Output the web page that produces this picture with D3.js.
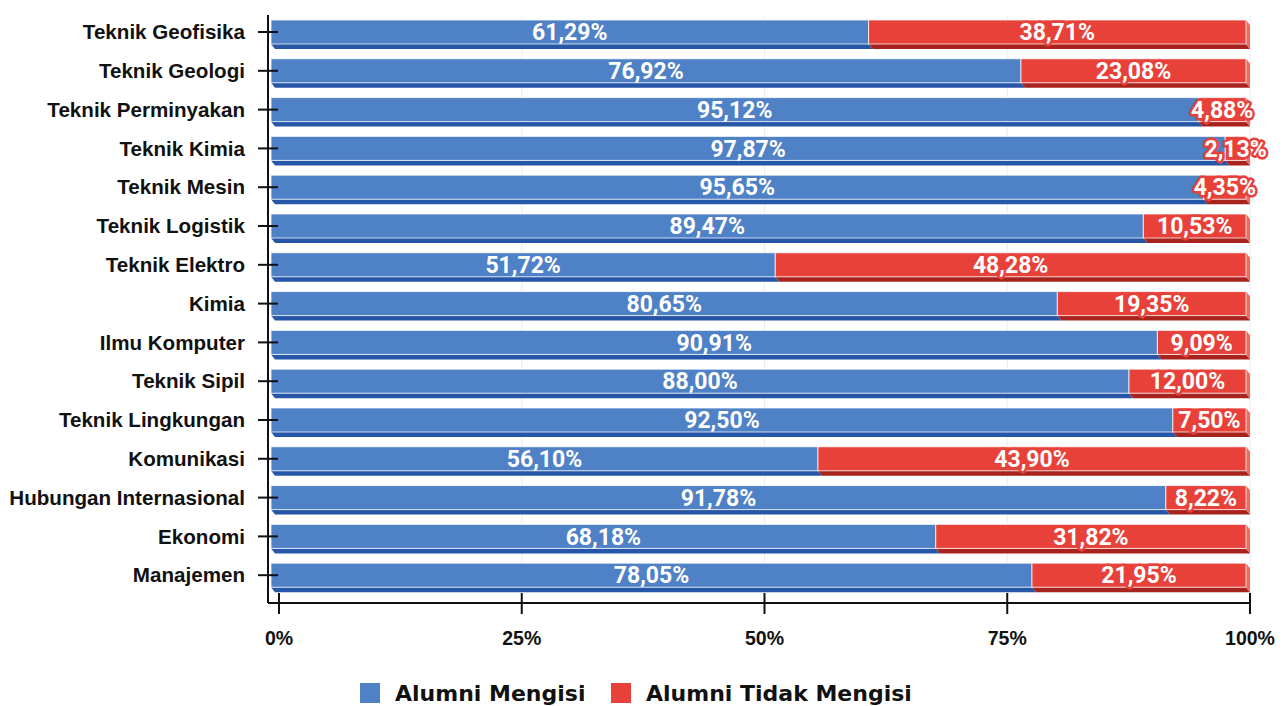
<!DOCTYPE html>
<html lang="id">
<head>
<meta charset="UTF-8" />
<title>Alumni Mengisi per Program Studi</title>
<script src="https://d3js.org/d3.v7.min.js"></script>
<style>
  body { margin: 0; background: #fff; }
</style>
</head>
<body>
<script>
    // data
    var categories = ["Teknik Geofisika", "Teknik Geologi", "Teknik Perminyakan", "Teknik Kimia",
        "Teknik Mesin", "Teknik Logistik", "Teknik Elektro", "Kimia", "Ilmu Komputer",
        "Teknik Sipil", "Teknik Lingkungan", "Komunikasi", "Hubungan Internasional",
        "Ekonomi", "Manajemen"];
    var mengisi = [61.29, 76.92, 95.12, 97.87, 95.65, 89.47, 51.72, 80.65, 90.91,
        88.00, 92.50, 56.10, 91.78, 68.18, 78.05];
    var tidakMengisi = [38.71, 23.08, 4.88, 2.13, 4.35, 10.53, 48.28, 19.35, 9.09,
        12.00, 7.50, 43.90, 8.22, 31.82, 21.95];
    var seriesNames = ["Alumni Mengisi", "Alumni Tidak Mengisi"];
    var xTicks = [0, 25, 50, 75, 100];

    var w = 1288, h = 706;
    var depthX = 4, depthY = 5;   // fake 3d depth

    var colors = [
        { face: "#4f81c6", side: "#3f6fb8", bottom: "#2656a8" },
        { face: "#e8413a", side: "#ee6a62", bottom: "#a8231d" }
    ];

    var svg = d3.select("body").append("svg")
        .attr("width", w)
        .attr("height", h);

    // axis scale (back plane) and bar scale (front face)
    var xScale = d3.scaleLinear().domain([0, 100]).range([279, 1250]);
    var xFace = d3.scaleLinear().domain([0, 100]).range([271, 1246]);
    var yScale = d3.scaleBand().domain(categories).range([20, 587.2]).paddingInner(0.381).paddingOuter(0);

    var rows = categories.map(function (c, i) {
        return { cat: c, segs: [
            { s: 0, x0: 0, x1: mengisi[i], v: mengisi[i] },
            { s: 1, x0: mengisi[i], x1: mengisi[i] + tidakMengisi[i], v: tidakMengisi[i] }
        ] };
    });

    // faint grid lines
    svg.append("g").selectAll("line")
        .data(xTicks.slice(1))
        .enter().append("line")
        .attr("x1", function (d) { return xScale(d); })
        .attr("x2", function (d) { return xScale(d); })
        .attr("y1", 15).attr("y2", 600)
        .attr("stroke", "#ececec")
        .attr("stroke-width", 1);

    var row = svg.append("g").selectAll("g.row")
        .data(rows)
        .enter().append("g")
        .attr("class", "row")
        .attr("transform", function (d) { return "translate(0," + yScale(d.cat) + ")"; });

    var bh = yScale.bandwidth();

    // bottom slabs
    row.selectAll("path.bottom")
        .data(function (d) { return d.segs; })
        .enter().append("path")
        .attr("fill", function (d) { return colors[d.s].bottom; })
        .attr("d", function (d) {
            var a = xFace(d.x0), b = xFace(d.x1);
            return "M" + a + "," + bh + "L" + b + "," + bh + "L" + (b + depthX) + "," + (bh + depthY) +
                "L" + (a + depthX) + "," + (bh + depthY) + "Z";
        });

    // right side of the last segment
    row.append("path")
        .attr("fill", colors[1].side)
        .attr("d", function (d) {
            var b = xFace(d.segs[1].x1);
            return "M" + b + ",0L" + (b + depthX) + "," + depthY + "L" + (b + depthX) + "," + (bh + depthY) +
                "L" + b + "," + bh + "Z";
        });

    // faces
    row.selectAll("rect.face")
        .data(function (d) { return d.segs; })
        .enter().append("rect")
        .attr("x", function (d) { return xFace(d.x0); })
        .attr("y", 0)
        .attr("width", function (d) { return xFace(d.x1) - xFace(d.x0); })
        .attr("height", bh)
        .attr("fill", function (d) { return colors[d.s].face; })
        .attr("stroke", "#ffffff")
        .attr("stroke-opacity", 0.75)
        .attr("stroke-width", 1);

    // value labels
    var fmt = function (v) { return v.toFixed(2).replace(".", ",") + "%"; };
    row.selectAll("text.val")
        .data(function (d) { return d.segs; })
        .enter().append("text")
        .attr("x", function (d) { return (xFace(d.x0) + xFace(d.x1)) / 2; })
        .attr("y", bh / 2)
        .attr("dy", "0.36em")
        .attr("text-anchor", "middle")
        .attr("font-family", "Roboto, sans-serif")
        .attr("font-weight", "bold")
        .attr("font-size", "23px")
        .attr("fill", "#fff")
        .attr("stroke", function (d) { return d.s === 1 ? colors[1].face : "none"; })
        .attr("stroke-width", 5)
        .attr("stroke-linejoin", "round")
        .attr("paint-order", "stroke")
        .text(function (d) { return fmt(d.v); });

    // axes
    var yAxisX = 268, xAxisY = 603;
    svg.append("line")
        .attr("x1", yAxisX).attr("x2", yAxisX)
        .attr("y1", 15).attr("y2", xAxisY)
        .attr("stroke", "#111").attr("stroke-width", 2);
    svg.append("line")
        .attr("x1", yAxisX).attr("x2", xScale(100))
        .attr("y1", xAxisY).attr("y2", xAxisY)
        .attr("stroke", "#111").attr("stroke-width", 2);

    var yTicks = svg.append("g").selectAll("g")
        .data(categories)
        .enter().append("g")
        .attr("transform", function (d) { return "translate(0," + (yScale(d) + bh / 2) + ")"; });
    yTicks.append("line")
        .attr("x1", 258).attr("x2", 278)
        .attr("stroke", "#111").attr("stroke-width", 2);
    yTicks.append("text")
        .attr("x", 245)
        .attr("dy", "0.35em")
        .attr("text-anchor", "end")
        .attr("font-family", "'Liberation Sans', Arial, sans-serif")
        .attr("font-weight", "bold")
        .attr("font-size", "20.6px")
        .attr("fill", "#111")
        .text(function (d) { return d; });

    var xt = svg.append("g").selectAll("g")
        .data(xTicks)
        .enter().append("g")
        .attr("transform", function (d) { return "translate(" + xScale(d) + ",0)"; });
    xt.append("line")
        .attr("y1", 593).attr("y2", 614)
        .attr("stroke", "#111").attr("stroke-width", 2);
    xt.append("text")
        .attr("y", 645)
        .attr("text-anchor", "middle")
        .attr("font-family", "'Liberation Sans', Arial, sans-serif")
        .attr("font-weight", "bold")
        .attr("font-size", "19.5px")
        .attr("fill", "#111")
        .text(function (d) { return d + "%"; });

    // legend
    var legendX = [360, 611];
    var lg = svg.append("g").selectAll("g")
        .data(seriesNames)
        .enter().append("g")
        .attr("transform", function (d, i) { return "translate(" + legendX[i] + ",683)"; });
    lg.append("rect")
        .attr("width", 20).attr("height", 20)
        .attr("fill", function (d, i) { return colors[i].face; });
    lg.append("text")
        .attr("x", 35).attr("y", 18)
        .attr("font-family", "'DejaVu Sans', Verdana, sans-serif")
        .attr("font-weight", "bold")
        .attr("font-size", "22px")
        .attr("fill", "#111")
        .text(function (d) { return d; });
</script>
</body>
</html>
